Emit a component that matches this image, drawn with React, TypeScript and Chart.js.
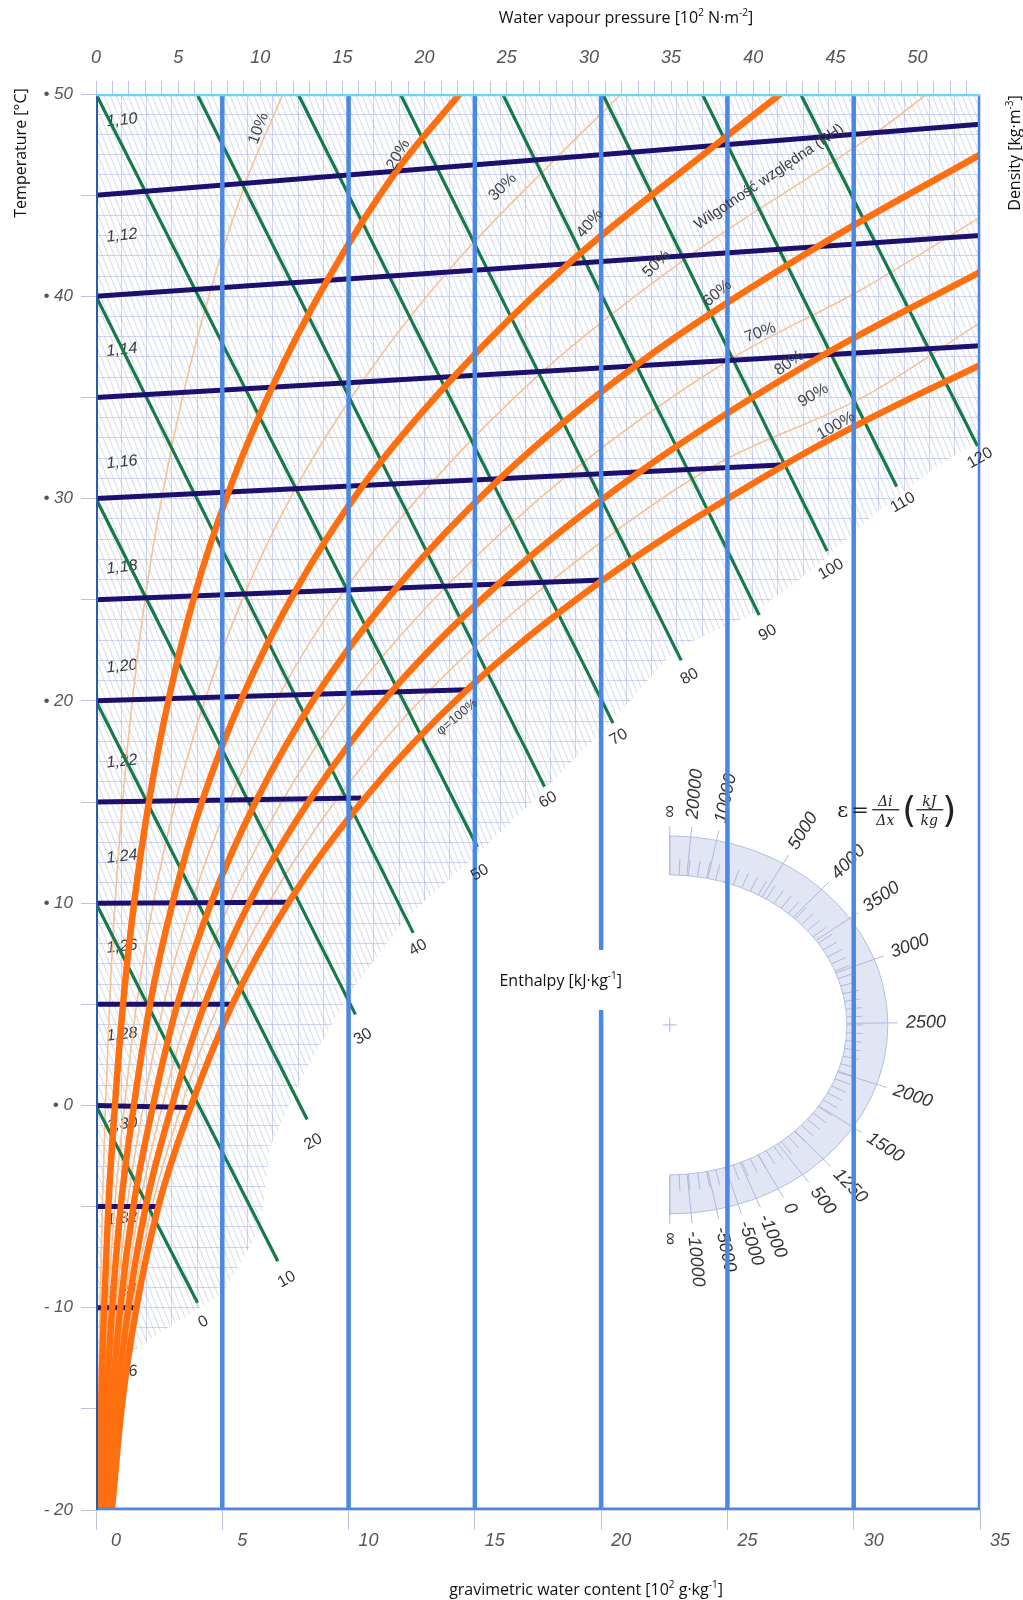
import React, { useEffect, useRef } from 'react';
import { Chart, registerables } from 'chart.js';

Chart.register(...registerables);

// ---------------- axes ----------------
const X_MIN = 0;
const X_MAX = 35;
const T_MIN = -20;
const T_MAX = 50;
const P_MAX = 53.8;
const X_TICK_VALUES = [0, 5, 10, 15, 20, 25, 30, 35];
const P_TICK_VALUES = [0, 5, 10, 15, 20, 25, 30, 35, 40, 45, 50];
const T_TICK_VALUES = [50, 40, 30, 20, 10, 0, -10, -20];
const T_TICK_TEXT = ['• 50', '• 40', '• 30', '• 20', '• 10', '• 0', '- 10', '- 20'];

// ---------------- blue water-content lines ----------------
const BLUE_X = [5, 10, 15, 20, 25, 30, 35];

// ---------------- isotherms (navy) ----------------
const ISO_T = [-15, -10, -5, 0, 5, 10, 15, 20, 25, 30, 35, 40, 45];
const ISO_END_X = [1.0, 1.65, 2.5, 3.75, 5.45, 7.6, 10.5, 14.7, 20.07, 27.3, 35, 35, 35];
const ISO_END_T = [-15, -10, -5, -0.1, 5.0, 10.05, 15.2, 20.55, 25.98, 31.67, 37.55, 43.0, 48.5];

// ---------------- enthalpy lines (green) ----------------
const ENTH_H = [0, 10, 20, 30, 40, 50, 60, 70, 80, 90, 100, 110, 120];
const ENTH_START_X = [0, 0, 0, 0, 0, 0, 4.0, 8.0, 12.05, 16.1, 20.06, 24.0, 27.9];
const ENTH_START_T = [0, 10, 20, 30, 40, 50, 50, 50, 50, 50, 50, 50, 50];
const ENTH_END_X = [4.02, 7.2, 8.36, 10.27, 12.56, 15.1, 17.76, 20.47, 23.17, 26.26, 28.95, 31.7, 34.9];
const ENTH_END_T = [-9.75, -7.7, -0.7, 4.5, 8.53, 12.78, 15.76, 18.9, 22.0, 24.24, 27.4, 30.6, 32.6];
const ENTH_LABEL_X = [4.25, 7.55, 8.6, 10.57, 12.75, 15.2, 17.9, 20.7, 23.5, 26.6, 29.1, 31.95, 35.0];
const ENTH_LABEL_T = [-10.7, -8.6, -1.8, 3.4, 7.8, 11.5, 15.1, 18.2, 21.2, 23.36, 26.5, 29.8, 32.0];

// ---------------- relative humidity curves [x, T] ----------------
const RH10 = [[0.064, -20], [0.1, -15], [0.16, -10], [0.25, -5], [0.375, 0], [0.535, 5], [0.755, 10], [1.05, 15], [1.44, 20.05], [1.95, 25.1], [2.62, 30.15], [3.47, 35.25], [4.56, 40.4], [5.92, 45.6], [7.4, 50]];
const RH20 = [[0.13, -20], [0.2, -15], [0.32, -10], [0.49, -5], [0.75, 0], [1.07, 5], [1.51, 10.02], [2.1, 15.04], [2.88, 20.1], [3.9, 25.2], [5.24, 30.3], [6.97, 35.5], [9.16, 40.8], [11.9, 46.2], [14.4, 50]];
const RH30 = [[0.19, -20], [0.3, -15], [0.48, -10], [0.74, -5], [1.13, 0], [1.61, 5], [2.27, 10.03], [3.16, 15.06], [4.34, 20.15], [5.89, 25.3], [7.9, 30.5], [10.55, 35.8], [13.9, 41.2], [18.2, 46.8], [20.8, 50]];
const RH40 = [[0.25, -20], [0.4, -15], [0.64, -10], [0.98, -5], [1.5, 0], [2.14, 5], [3.04, 10.05], [4.22, 15.1], [5.8, 20.2], [7.88, 25.4], [10.6, 30.7], [14.15, 36.0], [18.7, 41.6], [24.5, 47.45], [27.1, 50]];
const RH50 = [[0.32, -20], [0.51, -15], [0.8, -10], [1.23, -5], [1.88, 0], [2.68, 5], [3.8, 10.05], [5.29, 15.1], [7.26, 20.3], [9.86, 25.5], [13.3, 30.8], [17.7, 36.3], [23.5, 42.0], [30.9, 48.1], [32.9, 50]];
const RH60 = [[0.38, -20], [0.61, -15], [0.96, -10], [1.48, -5], [2.26, 0], [3.22, 5], [4.57, 10.05], [6.36, 15.1], [8.74, 20.3], [11.9, 25.6], [16.0, 31.0], [21.4, 36.6], [28.5, 42.4], [35, 47.0]];
const RH70 = [[0.44, -20], [0.71, -15], [1.12, -10], [1.72, -5], [2.63, 0], [3.76, 5], [5.33, 10.1], [7.42, 15.15], [10.2, 20.4], [13.9, 25.7], [18.7, 31.2], [25.0, 36.8], [30.4, 40.4], [35, 43.9]];
const RH80 = [[0.51, -20], [0.81, -15], [1.28, -10], [1.97, -5], [3.01, 0], [4.3, 5], [6.1, 10.1], [8.49, 15.15], [11.7, 20.45], [15.96, 25.8], [21.5, 31.3], [28.8, 37.1], [35, 41.2]];
const RH90 = [[0.57, -20], [0.91, -15], [1.44, -10], [2.22, -5], [3.39, 0], [4.85, 5], [6.88, 10.1], [9.57, 15.2], [13.2, 20.5], [18.0, 25.9], [24.3, 31.5], [30.5, 35.1], [35, 38.7]];
const RH100 = [[0.63, -20], [1.01, -15], [1.6, -10], [2.47, -5], [3.77, 0], [5.4, 5.0], [7.66, 10.1], [10.65, 15.2], [14.7, 20.55], [20.1, 26.0], [27.3, 31.7], [30.7, 34.0], [35, 36.6]];

const RH_LABELS = ['10%', '20%', '30%', '40%', '50%', '60%', '70%', '80%', '90%', '100%'];
const RH_LABEL_X = [6.44, 11.97, 16.1, 19.56, 22.2, 24.6, 26.3, 27.45, 28.4, 29.3];
const RH_LABEL_T = [48.3, 47.0, 45.4, 43.6, 41.6, 40.15, 38.2, 36.7, 35.1, 33.6];
const RH_LABEL_ROT = [-70, -60, -45, -50, -45, -40, -20, -35, -30, -30];

// ---------------- density labels ----------------
const DENS_LABELS = ['1,10', '1,12', '1,14', '1,16', '1,18', '1,20', '1,22', '1,24', '1,26', '1,28', '1,30', '1,32', '1,34', '1,36'];
const DENS_T = [48.7, 43.0, 37.35, 31.8, 26.6, 21.7, 17.0, 12.3, 7.85, 3.5, -0.94, -5.6, -9.2, -13.2];
const DENS_X = 1.03;

// ---------------- hatched (drawn) region lower boundary ----------------
const BOUND_X = [0, 2.2, 5.0, 6.5, 6.9, 8.2, 9.95, 12.3, 15.0, 17.5, 20.2, 23.0, 26.0, 28.6, 30.5, 33.3, 35];
const BOUND_T = [-13.5, -11.5, -9.3, -6.1, -2.0, 1.5, 5.4, 9.3, 12.3, 15.3, 18.7, 22.6, 24.3, 26.7, 28.9, 31.6, 32.9];

// ---------------- edge-scale protractor ----------------
const PROT_CENTER_X = 22.72;
const PROT_CENTER_T = 3.98;
const PROT_LABELS = ['∞', '20000', '10000', '5000', '4000', '3500', '3000', '2500', '2000', '1500', '1250', '500', '0', '-1000', '-5000', '-5000', '-10000', '∞'];
const PROT_ANGLES = [-90, -84.5, -77.6, -58.6, -45.8, -34.3, -20.3, -0.6, 18.3, 32.7, 45.2, 52.4, 60.1, 66.6, 71.7, 77.6, 84.4, 90];

// ---------------- free text anchors ----------------
const ENTHALPY_TEXT_X = 18.4;
const ENTHALPY_TEXT_T = 6.2;
const FORMULA_X = 29.35;
const FORMULA_T = 14.6;
const RH_TITLE_X = 26.65;
const RH_TITLE_T = 45.9;
const PHI_X = 14.3;
const PHI_T = 19.2;

// ---------------- styles ----------------
const C_BLUE = '#4a88e4';
const C_LEFT = '#2b5cab';
const C_CYAN = '#6cd5f2';
const C_NAVY = '#1d0f6e';
const C_GREEN = '#16794a';
const C_ORANGE = '#ff6f0f';
const C_ORANGE_THIN = '#f6c292';
const C_GRID = 'rgba(176,187,224,0.62)';
const C_TICK = '#bcc3da';
const TICK_FONT = 'Liberation Sans';
const TITLE_FONT = 'Open Sans';

type Part = { t: string; sup?: boolean };

const pts = (arr: number[][]) => arr.map(([x, y]) => ({ x, y }));

function lineDs(label: string, data: { x: number; y: number }[], color: string, width: number, order: number, extra: any = {}) {
  return {
    label,
    data,
    borderColor: color,
    backgroundColor: color,
    borderWidth: width,
    pointRadius: 0,
    pointHoverRadius: 0,
    fill: false,
    order,
    xAxisID: 'x',
    yAxisID: 'y',
    ...extra,
  };
}

function makeHatch(): any {
  const c = document.createElement('canvas');
  const w = 6;
  const h = 15;
  c.width = w;
  c.height = h;
  const g = c.getContext('2d');
  if (!g) return 'rgba(160,172,215,0.15)';
  g.strokeStyle = 'rgba(150,163,210,0.42)';
  g.lineWidth = 1;
  g.beginPath();
  for (const o of [-1, 0, 1]) {
    g.moveTo(o * w, 0);
    g.lineTo(o * w + w, h);
  }
  g.stroke();
  return g.createPattern(c, 'repeat') || 'rgba(160,172,215,0.15)';
}

function txt(ctx: CanvasRenderingContext2D, s: string, x: number, y: number, rotDeg: number, font: string, color: string, align: CanvasTextAlign = 'center') {
  ctx.save();
  ctx.translate(x, y);
  ctx.rotate((rotDeg * Math.PI) / 180);
  ctx.font = font;
  ctx.fillStyle = color;
  ctx.textAlign = align;
  ctx.textBaseline = 'middle';
  ctx.fillText(s, 0, 0);
  ctx.restore();
}

function richWidth(ctx: CanvasRenderingContext2D, parts: Part[], size: number, family: string) {
  let w = 0;
  for (const p of parts) {
    ctx.font = `${p.sup ? Math.round(size * 0.62) : size}px "${family}"`;
    w += ctx.measureText(p.t).width;
  }
  return w;
}

function drawRich(ctx: CanvasRenderingContext2D, parts: Part[], cx: number, cy: number, rotDeg: number, size: number, family: string, color: string) {
  ctx.save();
  ctx.translate(cx, cy);
  ctx.rotate((rotDeg * Math.PI) / 180);
  const w = richWidth(ctx, parts, size, family);
  let x = -w / 2;
  const base = size * 0.36;
  ctx.fillStyle = color;
  ctx.textAlign = 'left';
  ctx.textBaseline = 'alphabetic';
  for (const p of parts) {
    ctx.font = `${p.sup ? Math.round(size * 0.62) : size}px "${family}"`;
    ctx.fillText(p.t, x, p.sup ? base - size * 0.45 : base);
    x += ctx.measureText(p.t).width;
  }
  ctx.restore();
  return w;
}

function drawProtractor(chart: any) {
  const ctx: CanvasRenderingContext2D = chart.ctx;
  const xs = chart.scales.x;
  const ys = chart.scales.y;
  const cx = xs.getPixelForValue(PROT_CENTER_X);
  const cy = ys.getPixelForValue(PROT_CENTER_T);
  const rxO = 218, ryO = 189, rxI = 177, ryI = 150;
  ctx.save();
  ctx.beginPath();
  ctx.ellipse(cx, cy, rxO, ryO, 0, -Math.PI / 2, Math.PI / 2, false);
  ctx.ellipse(cx, cy, rxI, ryI, 0, Math.PI / 2, -Math.PI / 2, true);
  ctx.closePath();
  ctx.fillStyle = 'rgba(224,229,243,0.95)';
  ctx.fill();
  ctx.strokeStyle = 'rgba(180,192,222,1)';
  ctx.lineWidth = 1;
  ctx.stroke();
  ctx.strokeStyle = 'rgba(168,180,214,0.9)';
  for (let a = -87; a <= 87; a += 3) {
    const r = (a * Math.PI) / 180;
    ctx.beginPath();
    ctx.moveTo(cx + rxI * Math.cos(r), cy + ryI * Math.sin(r));
    ctx.lineTo(cx + (rxI + 16) * Math.cos(r), cy + (ryI + 16) * Math.sin(r));
    ctx.stroke();
  }
  PROT_ANGLES.forEach((a, i) => {
    const r = (a * Math.PI) / 180;
    ctx.beginPath();
    ctx.moveTo(cx + rxI * Math.cos(r), cy + ryI * Math.sin(r));
    ctx.lineTo(cx + (rxO + 10) * Math.cos(r), cy + (ryO + 10) * Math.sin(r));
    ctx.stroke();
    txt(ctx, PROT_LABELS[i], cx + (rxO + 18) * Math.cos(r), cy + (ryO + 18) * Math.sin(r), a, `italic 18px "${TICK_FONT}"`, '#333', 'left');
  });
  ctx.strokeStyle = 'rgba(170,182,218,1)';
  ctx.beginPath();
  ctx.moveTo(cx - 7, cy);
  ctx.lineTo(cx + 7, cy);
  ctx.moveTo(cx, cy - 7);
  ctx.lineTo(cx, cy + 7);
  ctx.stroke();
  ctx.restore();
}

function drawFormula(ctx: CanvasRenderingContext2D, x0: number, y0: number) {
  ctx.save();
  ctx.fillStyle = '#222';
  ctx.textBaseline = 'alphabetic';
  ctx.textAlign = 'left';
  ctx.font = '21px "DejaVu Serif"';
  ctx.fillText('ε', x0, y0 + 7);
  ctx.fillText('=', x0 + 14, y0 + 7);
  ctx.textAlign = 'center';
  ctx.font = 'italic 14px "DejaVu Serif"';
  ctx.fillText('Δi', x0 + 48, y0 - 4);
  ctx.fillText('Δx', x0 + 48, y0 + 15);
  ctx.fillRect(x0 + 35, y0 - 1, 27, 1.3);
  ctx.font = '36px "DejaVu Sans"';
  ctx.fillText('(', x0 + 72, y0 + 12);
  ctx.fillText(')', x0 + 112, y0 + 12);
  ctx.font = 'italic 14px "DejaVu Serif"';
  ctx.fillText('kJ', x0 + 92, y0 - 4);
  ctx.fillText('kg', x0 + 92, y0 + 15);
  ctx.fillRect(x0 + 79, y0 - 1, 27, 1.3);
  ctx.restore();
}

const decor = {
  id: 'decor',
  afterDatasetDraw(chart: any, args: any) {
    const ds = chart.data.datasets[args.index];
    if (!ds || ds.label !== 'hatch') return;
    const ctx: CanvasRenderingContext2D = chart.ctx;
    const xs = chart.scales.x;
    const ys = chart.scales.y;
    drawProtractor(chart);
    DENS_LABELS.forEach((s, i) => {
      txt(ctx, s, xs.getPixelForValue(DENS_X), ys.getPixelForValue(DENS_T[i]), -6, `italic 16px "${TICK_FONT}"`, '#3a3a3a');
    });
  },
  afterDatasetsDraw(chart: any) {
    const ctx: CanvasRenderingContext2D = chart.ctx;
    const xs = chart.scales.x;
    const ys = chart.scales.y;
    ENTH_H.forEach((h, i) => {
      txt(ctx, String(h), xs.getPixelForValue(ENTH_LABEL_X[i]), ys.getPixelForValue(ENTH_LABEL_T[i]), -30, `16px "${TICK_FONT}"`, '#333');
    });
    RH_LABELS.forEach((s, i) => {
      txt(ctx, s, xs.getPixelForValue(RH_LABEL_X[i]), ys.getPixelForValue(RH_LABEL_T[i]), RH_LABEL_ROT[i], `16px "${TICK_FONT}"`, '#444');
    });
    txt(ctx, 'Wilgotność względna (RH)', xs.getPixelForValue(RH_TITLE_X), ys.getPixelForValue(RH_TITLE_T), -34, `15px "${TICK_FONT}"`, '#3c3c3c');
    txt(ctx, 'φ=100%', xs.getPixelForValue(PHI_X), ys.getPixelForValue(PHI_T), -40, `13px "${TICK_FONT}"`, '#444');

    const parts: Part[] = [{ t: 'Enthalpy [kJ·kg' }, { t: '-1', sup: true }, { t: ']' }];
    const ex = xs.getPixelForValue(ENTHALPY_TEXT_X);
    const ey = ys.getPixelForValue(ENTHALPY_TEXT_T);
    const w = richWidth(ctx, parts, 16, TITLE_FONT);
    ctx.save();
    ctx.fillStyle = '#fff';
    ctx.fillRect(ex - w / 2 - 5, ey - 30, w + 10, 60);
    ctx.restore();
    drawRich(ctx, parts, ex, ey, 0, 16, TITLE_FONT, '#111');

    drawFormula(ctx, xs.getPixelForValue(FORMULA_X), ys.getPixelForValue(FORMULA_T));
  },
  afterDraw(chart: any) {
    const ctx: CanvasRenderingContext2D = chart.ctx;
    const a = chart.chartArea;
    drawRich(ctx, [{ t: 'Water vapour pressure [10' }, { t: '2', sup: true }, { t: ' N·m' }, { t: '-2', sup: true }, { t: ']' }], (a.left + a.right) / 2 + 88, a.top - 77, 0, 16, TITLE_FONT, '#111');
    drawRich(ctx, [{ t: 'gravimetric water content [10' }, { t: '2', sup: true }, { t: ' g·kg' }, { t: '-1', sup: true }, { t: ']' }], (a.left + a.right) / 2 + 48, a.bottom + 79, 0, 16, TITLE_FONT, '#111');
    drawRich(ctx, [{ t: 'Temperature [°C]' }], a.left - 76, a.top + 59, -90, 16, TITLE_FONT, '#111');
    drawRich(ctx, [{ t: 'Density [kg·m' }, { t: '-3', sup: true }, { t: ']' }], a.right + 34, a.top + 59, -90, 16, TITLE_FONT, '#111');
  },
};

const isInt = (v: number) => Math.abs(v - Math.round(v)) < 1e-6;

function buildConfig(hatch: any): any {
  const boundary = BOUND_X.map((x, i) => ({ x, y: BOUND_T[i] }));
  const datasets: any[] = [];
  datasets.push(lineDs('mask', boundary, 'rgba(0,0,0,0)', 0, 200, { fill: { value: T_MIN }, backgroundColor: '#ffffff' }));
  datasets.push(lineDs('hatch', boundary, 'rgba(0,0,0,0)', 0, 199, { fill: { value: T_MAX }, backgroundColor: hatch }));

  [RH10, RH30, RH50, RH70, RH90].forEach((c, i) => {
    datasets.push(lineDs(`rh-thin-${i}`, pts(c), C_ORANGE_THIN, 1.6, 60, { cubicInterpolationMode: 'monotone' }));
  });
  ENTH_H.forEach((h, i) => {
    datasets.push(lineDs(`h${h}`, [{ x: ENTH_START_X[i], y: ENTH_START_T[i] }, { x: ENTH_END_X[i], y: ENTH_END_T[i] }], C_GREEN, 3.2, 50));
  });
  ISO_T.forEach((t, i) => {
    datasets.push(lineDs(`t${t}`, [{ x: 0, y: t }, { x: ISO_END_X[i], y: ISO_END_T[i] }], C_NAVY, 5, 40));
  });
  [RH20, RH40, RH60, RH80, RH100].forEach((c, i) => {
    datasets.push(lineDs(`rh-thick-${i}`, pts(c), C_ORANGE, 6.5, 30, { cubicInterpolationMode: 'monotone' }));
  });
  BLUE_X.forEach((x) => {
    datasets.push(lineDs(`x${x}`, [{ x, y: T_MIN }, { x, y: T_MAX }], C_BLUE, 4.5, 20));
  });
  datasets.push(lineDs('bottom', [{ x: X_MIN, y: T_MIN }, { x: X_MAX, y: T_MIN }], C_BLUE, 5, 20));
  datasets.push(lineDs('left', [{ x: X_MIN, y: T_MIN }, { x: X_MIN, y: T_MAX }], C_LEFT, 4, 19));
  datasets.push(lineDs('top', [{ x: X_MIN, y: T_MAX }, { x: X_MAX, y: T_MAX }], C_CYAN, 4.5, 10));

  const tickFont = { family: TICK_FONT, size: 18, style: 'italic' as const };

  return {
    type: 'line',
    data: { datasets },
    options: {
      animation: false,
      responsive: false,
      events: [],
      layout: { padding: 0 },
      plugins: { legend: { display: false }, tooltip: { enabled: false } },
      scales: {
        x: {
          type: 'linear',
          position: 'bottom',
          min: X_MIN,
          max: X_MAX,
          afterFit: (s: any) => { s.height = 90; },
          border: { display: false },
          grid: {
            color: C_GRID,
            lineWidth: 1,
            tickLength: 20,
            tickColor: (c: any) => (c.tick && isInt(c.tick.value) && Math.round(c.tick.value) % 5 === 0 ? C_TICK : 'rgba(0,0,0,0)'),
          },
          ticks: {
            stepSize: 1,
            autoSkip: false,
            maxRotation: 0,
            includeBounds: false,
            labelOffset: 20,
            padding: 0,
            color: '#555',
            font: tickFont,
            callback: (v: number) => (X_TICK_VALUES.some((t) => Math.abs(t - v) < 1e-6) ? String(Math.round(v)) : ''),
          },
        },
        x2: {
          type: 'linear',
          position: 'top',
          min: 0,
          max: P_MAX,
          afterFit: (s: any) => { s.height = 94; },
          border: { display: false },
          grid: { drawOnChartArea: false, tickLength: 13, tickColor: C_TICK },
          ticks: {
            stepSize: 1,
            autoSkip: false,
            maxRotation: 0,
            includeBounds: false,
            padding: 12,
            color: '#555',
            font: tickFont,
            callback: (v: number) => (P_TICK_VALUES.some((t) => Math.abs(t - v) < 1e-6) ? String(Math.round(v)) : ''),
          },
        },
        y: {
          type: 'linear',
          position: 'left',
          min: T_MIN,
          max: T_MAX,
          afterFit: (s: any) => { s.width = 96; },
          border: { display: false },
          grid: {
            color: C_GRID,
            lineWidth: 1,
            tickLength: 15,
            tickColor: (c: any) => (c.tick && isInt(c.tick.value) && Math.round(c.tick.value) % 5 === 0 ? C_TICK : 'rgba(0,0,0,0)'),
          },
          ticks: {
            stepSize: 1,
            autoSkip: false,
            padding: 8,
            color: '#555',
            font: { family: TICK_FONT, size: 17, style: 'italic' as const },
            callback: (v: number) => {
              const i = T_TICK_VALUES.findIndex((t) => Math.abs(t - v) < 1e-6);
              return i >= 0 ? T_TICK_TEXT[i] : '';
            },
          },
        },
        y2: {
          type: 'linear',
          position: 'right',
          min: T_MIN,
          max: T_MAX,
          afterFit: (s: any) => { s.width = 43; },
          border: { display: false },
          grid: { display: false, drawTicks: false },
          ticks: { display: false },
        },
      },
    },
    plugins: [decor],
  };
}

export default function App() {
  const ref = useRef<HTMLCanvasElement>(null);
  useEffect(() => {
    document.body.style.margin = '0';
    const canvas = ref.current;
    if (!canvas) return;
    const chart = new Chart(canvas, buildConfig(makeHatch()));
    return () => chart.destroy();
  }, []);
  return (
    <div style={{ width: 1023, height: 1600, background: '#fff' }}>
      <canvas ref={ref} width={1023} height={1600} style={{ display: 'block', width: 1023, height: 1600 }} />
    </div>
  );
}
